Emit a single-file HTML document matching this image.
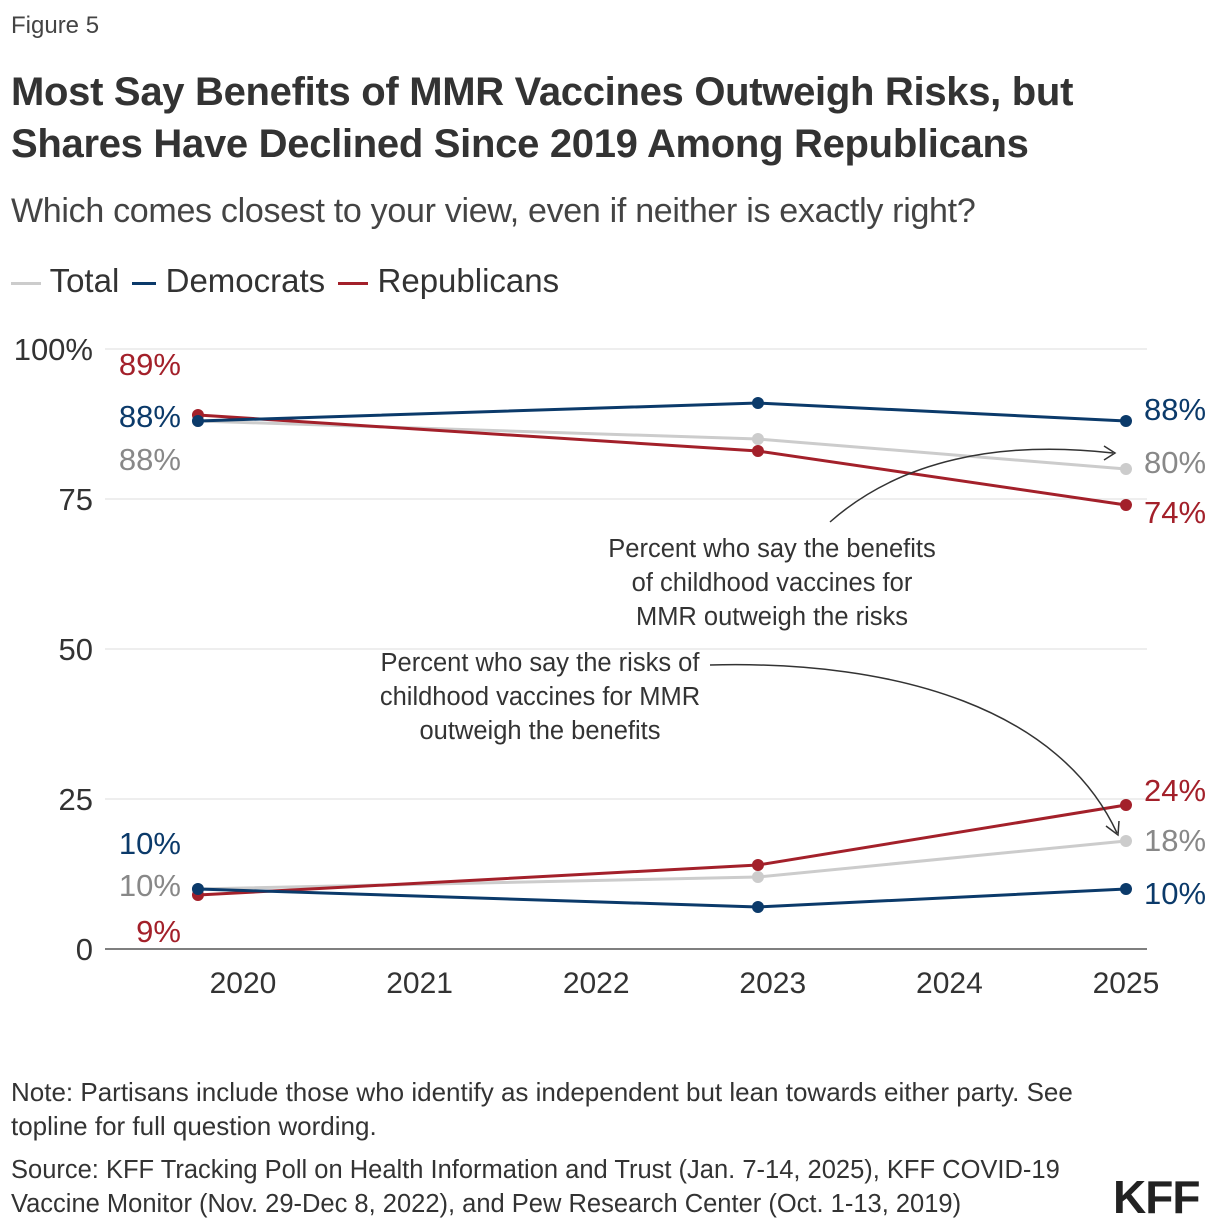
<!DOCTYPE html>
<html><head><meta charset="utf-8">
<style>
body{margin:0;background:#fff;font-family:"Liberation Sans",sans-serif;color:#333;}
.wrap{position:relative;width:1220px;height:1232px;overflow:hidden;}
.t{position:absolute;white-space:nowrap;}
</style></head><body>
<div class="wrap">
<div class="t" style="left:11px;top:12px;font-size:24px;color:#444">Figure 5</div>
<div class="t" style="left:11px;top:66px;font-size:40px;font-weight:bold;line-height:52px;color:#333;letter-spacing:-0.3px">Most Say Benefits of MMR Vaccines Outweigh Risks, but<br>Shares Have Declined Since 2019 Among Republicans</div>
<div class="t" style="left:11px;top:192px;font-size:34px;color:#444;letter-spacing:-0.3px">Which comes closest to your view, even if neither is exactly right?</div>
<div class="t" style="left:11px;top:262px;font-size:33px;color:#333">
<span><span style="display:inline-block;width:30px;height:3px;background:#ccc;vertical-align:middle"></span> Total</span>
<span><span style="display:inline-block;width:24px;height:3px;background:#0b3a6a;vertical-align:middle;margin-left:4px"></span> Democrats</span>
<span><span style="display:inline-block;width:30px;height:3px;background:#a3202a;vertical-align:middle;margin-left:4px"></span> Republicans</span>
</div>
<svg id="chart" width="1220" height="1232" style="position:absolute;left:0;top:0"></svg>
<div class="t" style="left:11px;top:1075px;font-size:26px;line-height:34px;color:#333">Note: Partisans include those who identify as independent but lean towards either party. See<br>topline for full question wording.</div>
<div class="t" style="left:11px;top:1153px;font-size:25.5px;line-height:34px;color:#333">Source: KFF Tracking Poll on Health Information and Trust (Jan. 7-14, 2025), KFF COVID-19<br>Vaccine Monitor (Nov. 29-Dec 8, 2022), and Pew Research Center (Oct. 1-13, 2019)</div>
<div class="t" style="left:1113px;top:1170px;font-size:46px;font-weight:bold;color:#222;letter-spacing:-1px">KFF</div>
</div>
<script>
const dates=[2019.745,2022.916,2025.0];
const yTicks=[0,25,50,75,100];
const xTicks=[2020,2021,2022,2023,2024,2025];
const totalBenefit=[88,85,80];
const demBenefit=[88,91,88];
const repBenefit=[89,83,74];
const totalRisk=[10,12,18];
const demRisk=[10,7,10];
const repRisk=[9,14,24];
const NS="http://www.w3.org/2000/svg";
const svg=document.getElementById('chart');
const X=d=>243+(d-2020)*176.6;
const Y=v=>949-6*v;
function el(t,a,p){const e=document.createElementNS(NS,t);for(const k in a)e.setAttribute(k,a[k]);(p||svg).appendChild(e);return e;}
yTicks.forEach(v=>{
 const l=el('line',{x1:105,x2:1147,y1:Y(v),y2:Y(v),stroke:v===0?'#555':'#ddd','stroke-width':v===0?1.5:1});
 
 
 const t=el('text',{x:93,y:Y(v)+11,'text-anchor':'end','font-size':31,fill:'#333','font-family':'Liberation Sans'});
 t.textContent=v===100?'100%':v;
 
 
});
xTicks.forEach(v=>{
 const t=el('text',{x:X(v),y:993,'text-anchor':'middle','font-size':30,fill:'#333','font-family':'Liberation Sans'});
 t.textContent=v;
 
 
});
const series=[
 ['total-benefit',totalBenefit,'#ccc'],['total-risk',totalRisk,'#ccc'],
 ['rep-benefit',repBenefit,'#a3202a'],['rep-risk',repRisk,'#a3202a'],
 ['dem-benefit',demBenefit,'#0b3a6a'],['dem-risk',demRisk,'#0b3a6a']];
series.forEach(([n,vals,c])=>{
 const p=el('polyline',{points:vals.map((v,i)=>X(dates[i])+','+Y(v)).join(' '),fill:'none',stroke:c,'stroke-width':3});
 
 
 vals.forEach((v,i)=>{
  const c2=el('circle',{cx:X(dates[i]),cy:Y(v),r:6,fill:c});
  
  
 });
});
const labels=[
 [repBenefit,0,'#a3202a',-50,'L'],[demBenefit,0,'#0b3a6a',-4,'L'],[totalBenefit,0,'#888',39,'L'],
 [demBenefit,2,'#0b3a6a',-11,'R'],[totalBenefit,2,'#888',-6,'R'],[repBenefit,2,'#a3202a',8,'R'],
 [demRisk,0,'#0b3a6a',-45,'L'],[totalRisk,0,'#888',-3,'L'],[repRisk,0,'#a3202a',37,'L'],
 [repRisk,2,'#a3202a',-14,'R'],[totalRisk,2,'#888',0,'R'],[demRisk,2,'#0b3a6a',5,'R']];
labels.forEach(([vals,i,c,dy,side],k)=>{
 const x=side==='L'?X(dates[i])-17:X(dates[i])+18;
 const t=el('text',{x:x,y:Y(vals[i])+dy+10,'text-anchor':side==='L'?'end':'start','font-size':31,fill:c,'font-family':'Liberation Sans'});
 t.textContent=vals[i]+'%';
 
 
});
function note(lines,cx,y0,name){lines.forEach((s,i)=>{const t=el('text',{x:cx,y:y0+i*34,'text-anchor':'middle','font-size':25.5,fill:'#333','font-family':'Liberation Sans'});t.textContent=s;});}
note(['Percent who say the benefits','of childhood vaccines for','MMR outweigh the risks'],772,557,'benefit-annotation');
note(['Percent who say the risks of','childhood vaccines for MMR','outweigh the benefits'],540,671,'risk-annotation');
const a1=el('path',{d:'M830,522 C900,460 1000,440 1113,453',fill:'none',stroke:'#333','stroke-width':1.5});

el('path',{d:'M1104,446 L1115,453 L1104,460',fill:'none',stroke:'#333','stroke-width':1.5});
const a2=el('path',{d:'M710,665 C900,660 1060,710 1117,833',fill:'none',stroke:'#333','stroke-width':1.5});

el('path',{d:'M1106,826 L1118,835 L1119,821',fill:'none',stroke:'#333','stroke-width':1.5});
</script>
</body></html>
